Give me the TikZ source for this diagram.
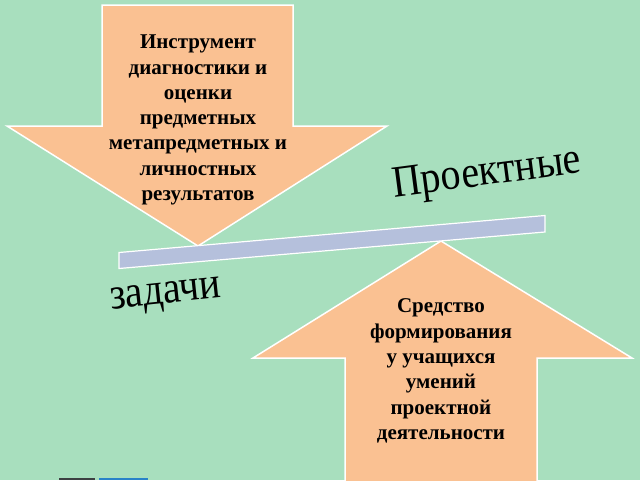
\documentclass[tikz,border=0pt]{standalone}
\usepackage{fontspec}
\setmainfont{Liberation Serif}
\definecolor{bgmint}{RGB}{168,223,190}
\definecolor{peach}{RGB}{250,193,146}
\definecolor{barblue}{RGB}{181,192,220}
\definecolor{btndark}{RGB}{60,64,66}
\definecolor{btnblue}{RGB}{40,130,200}
\tikzset{
  arrowshape/.style={fill=peach, draw=white, line width=1.5pt, line join=miter},
  barshape/.style={fill=barblue, draw=white, line width=1.2pt},
  arrowtext/.style={font=\fontsize{21}{25.3}\selectfont\bfseries, align=center, inner sep=0pt, text=black},
  wordart/.style={font=\fontsize{40}{44}\selectfont, inner sep=0pt, text=black},
}
\begin{document}
\begin{tikzpicture}[x=1pt,y=-1pt]
\fill[bgmint] (0,0) rectangle (640,480);
\useasboundingbox (0,0) rectangle (640,480);
% down arrow
\draw[arrowshape] (102,5) -- (293,5) -- (293,126) -- (387,126) -- (198,246) -- (7,126) -- (102,126) -- cycle;
% up arrow
\draw[arrowshape] (441,241) -- (632,358) -- (537,358) -- (537,482) -- (345,482) -- (345,358) -- (253,358) -- cycle;
% bar
\draw[barshape] (119,252.5) -- (545,215.5) -- (545,232) -- (119,268.5) -- cycle;
% texts
\node[arrowtext] (down) at (198,120) {Инструмент\\диагностики и\\оценки\\предметных\\метапредметных и\\личностных\\результатов};
\node[arrowtext] (up) at (441,371) {Средство\\формирования\\у учащихся\\умений\\проектной\\деятельности};
\node[wordart] (proj) at (487,175) {\rotatebox{7.5}{\scalebox{1}[1.12]{Проектные}}};
\node[wordart] (zad) at (166,297) {\rotatebox{6}{\scalebox{1}[1.12]{задачи}}};
% partial buttons at bottom edge
\fill[btndark] (59,477.5) rectangle (95,480);
\fill[btnblue] (99,477.5) rectangle (148,480);
\end{tikzpicture}
\end{document}
